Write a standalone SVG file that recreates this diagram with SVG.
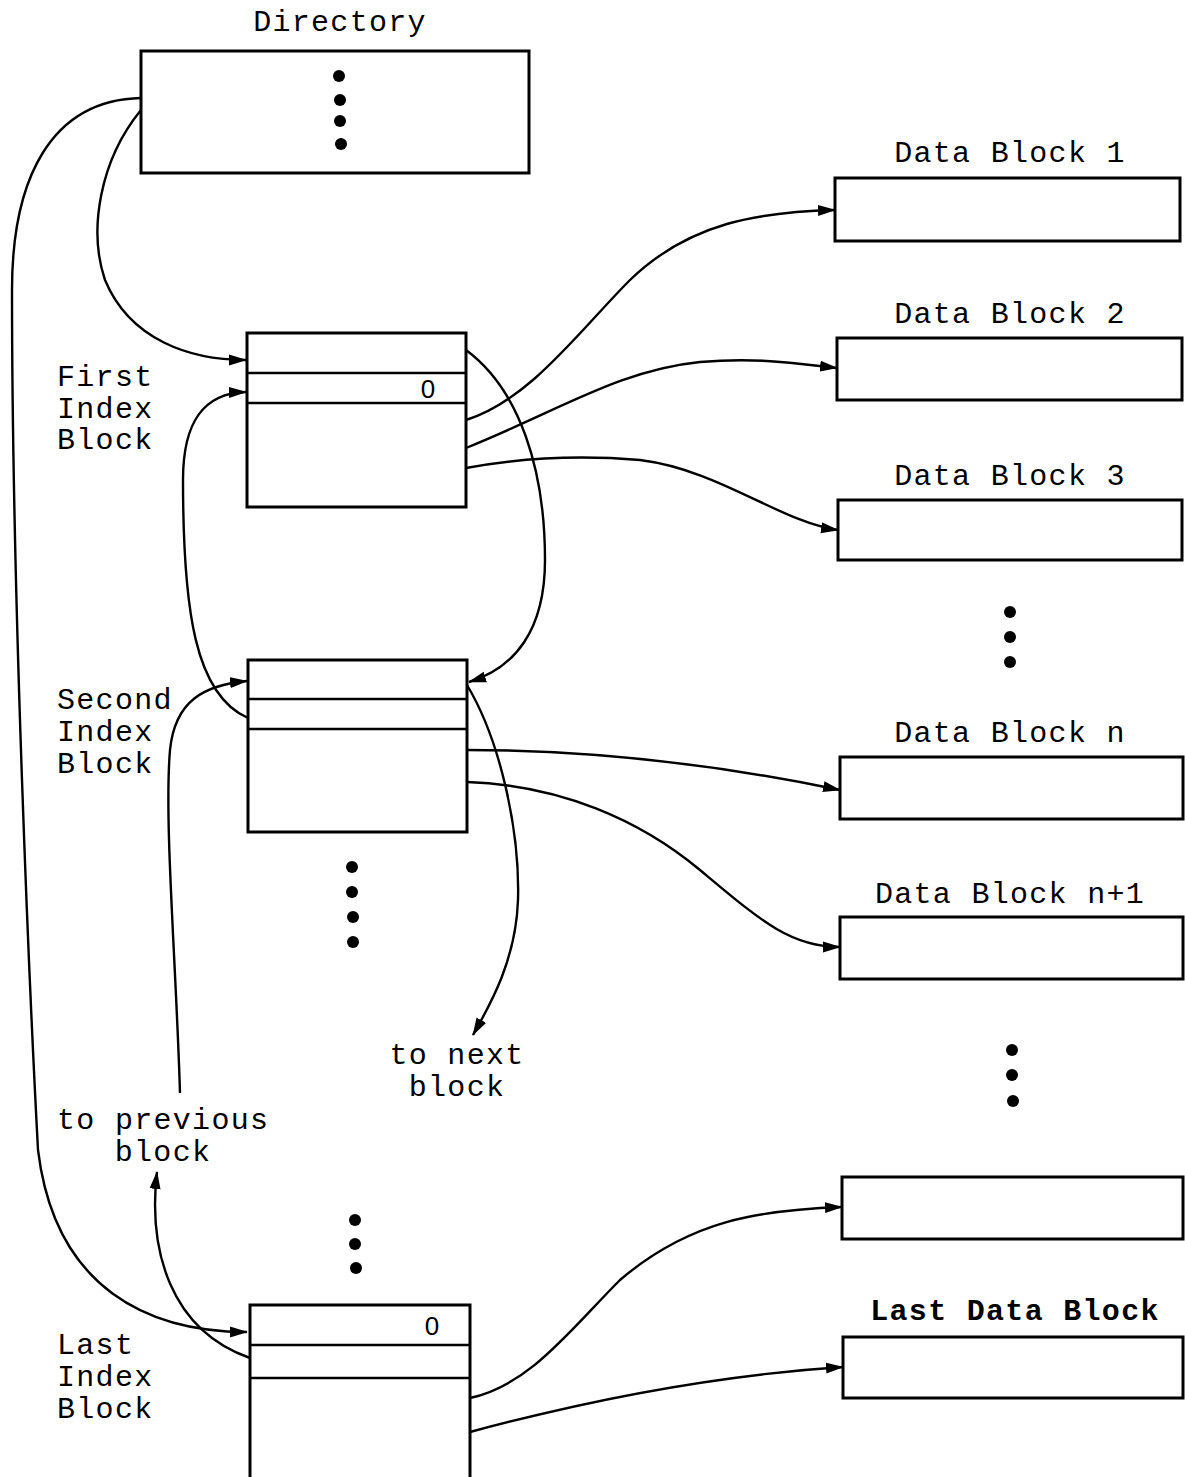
<svg xmlns="http://www.w3.org/2000/svg" width="1185" height="1477" viewBox="0 0 1185 1477">
<style>
.box{fill:#fff;stroke:#000;stroke-width:3}
.sep{stroke:#000;stroke-width:2.5}
.lbl{font-family:"Liberation Mono","Courier New",monospace;font-size:30px;letter-spacing:1.3px;fill:#000}
.b{font-weight:bold}
.zero{font-family:"Liberation Sans",Arial,sans-serif;font-size:26px;fill:#000}
.dot{fill:#000}
.con{fill:none;stroke:#000;stroke-width:2.4}
</style>
<defs>
<marker id="ah" markerWidth="18" markerHeight="12" refX="17" refY="6" orient="auto" markerUnits="userSpaceOnUse">
<path d="M0,0.5 L18,6 L0,11.5 Z" fill="#000"/>
</marker>
</defs>

<g id="directory">
<text class="lbl" x="340" y="31" text-anchor="middle">Directory</text>
<rect class="box" x="141" y="51" width="388" height="122"/>
<circle class="dot" cx="339" cy="76" r="6"/>
<circle class="dot" cx="340" cy="100" r="6"/>
<circle class="dot" cx="340" cy="121" r="6"/>
<circle class="dot" cx="341" cy="144" r="6"/>
</g>

<g id="first-index">
<text class="lbl" x="57" y="386">First</text>
<text class="lbl" x="57" y="418">Index</text>
<text class="lbl" x="57" y="449">Block</text>
<rect class="box" x="247" y="333" width="219" height="174"/>
<line class="sep" x1="247" y1="373" x2="466" y2="373"/>
<line class="sep" x1="247" y1="403" x2="466" y2="403"/>
<text class="zero" x="428" y="398" text-anchor="middle">0</text>
</g>

<g id="second-index">
<text class="lbl" x="57" y="709">Second</text>
<text class="lbl" x="57" y="741">Index</text>
<text class="lbl" x="57" y="773">Block</text>
<rect class="box" x="248" y="660" width="219" height="172"/>
<line class="sep" x1="248" y1="699" x2="467" y2="699"/>
<line class="sep" x1="248" y1="729" x2="467" y2="729"/>
</g>

<g id="index-dots">
<circle class="dot" cx="352" cy="867" r="6"/>
<circle class="dot" cx="352" cy="892" r="6"/>
<circle class="dot" cx="353" cy="917" r="6"/>
<circle class="dot" cx="353" cy="942" r="6"/>
<circle class="dot" cx="355" cy="1220" r="6"/>
<circle class="dot" cx="355" cy="1244" r="6"/>
<circle class="dot" cx="356" cy="1268" r="6"/>
</g>

<g id="last-index">
<text class="lbl" x="57" y="1354">Last</text>
<text class="lbl" x="57" y="1386">Index</text>
<text class="lbl" x="57" y="1418">Block</text>
<rect class="box" x="250" y="1305" width="220" height="180"/>
<line class="sep" x1="250" y1="1345" x2="470" y2="1345"/>
<line class="sep" x1="250" y1="1378" x2="470" y2="1378"/>
<text class="zero" x="432" y="1335" text-anchor="middle">0</text>
</g>

<g id="to-next-label">
<text class="lbl" x="457" y="1064" text-anchor="middle">to next</text>
<text class="lbl" x="457" y="1096" text-anchor="middle">block</text>
</g>
<g id="to-previous-label">
<text class="lbl" x="57" y="1129">to previous</text>
<text class="lbl" x="163" y="1161" text-anchor="middle">block</text>
</g>

<g id="data-block-1">
<text class="lbl" x="1010" y="162" text-anchor="middle">Data Block 1</text>
<rect class="box" x="835" y="178" width="345" height="63"/>
</g>
<g id="data-block-2">
<text class="lbl" x="1010" y="323" text-anchor="middle">Data Block 2</text>
<rect class="box" x="837" y="338" width="345" height="62"/>
</g>
<g id="data-block-3">
<text class="lbl" x="1010" y="485" text-anchor="middle">Data Block 3</text>
<rect class="box" x="838" y="500" width="344" height="60"/>
</g>
<g id="data-dots-1">
<circle class="dot" cx="1010" cy="612" r="6"/>
<circle class="dot" cx="1010" cy="637" r="6"/>
<circle class="dot" cx="1010" cy="662" r="6"/>
</g>
<g id="data-block-n">
<text class="lbl" x="1010" y="742" text-anchor="middle">Data Block n</text>
<rect class="box" x="840" y="757" width="343" height="62"/>
</g>
<g id="data-block-n1">
<text class="lbl" x="1010" y="903" text-anchor="middle">Data Block n+1</text>
<rect class="box" x="840" y="917" width="343" height="62"/>
</g>
<g id="data-dots-2">
<circle class="dot" cx="1012" cy="1050" r="6"/>
<circle class="dot" cx="1012" cy="1075" r="6"/>
<circle class="dot" cx="1013" cy="1101" r="6"/>
</g>
<g id="data-block-unlabeled">
<rect class="box" x="842" y="1177" width="341" height="62"/>
</g>
<g id="last-data-block">
<text class="lbl b" x="1015" y="1320" text-anchor="middle">Last Data Block</text>
<rect class="box" x="843" y="1337" width="340" height="61"/>
</g>

<g id="connectors">
<path class="con" d="M141,98 C50,100 12,180 12,290 C12,600 30,1000 38,1150 C55,1290 150,1332 247,1332" marker-end="url(#ah)"/>
<path class="con" d="M141,110 C100,160 88,230 105,280 C130,340 190,360 246,360" marker-end="url(#ah)"/>
<path class="con" d="M248,718 C195,695 183,610 183,480 C183,420 205,393 246,392" marker-end="url(#ah)"/>
<path class="con" d="M466,350 C520,390 545,470 545,560 C545,630 515,668 469,682" marker-end="url(#ah)"/>
<path class="con" d="M180,1093 C176,960 164,820 170,750 C175,700 205,685 247,681" marker-end="url(#ah)"/>
<path class="con" d="M250,1358 C170,1330 148,1250 157,1172" marker-end="url(#ah)"/>
<path class="con" d="M467,685 C500,740 520,830 518,900 C516,960 490,1005 473,1035" marker-end="url(#ah)"/>
<path class="con" d="M466,420 C530,400 580,330 630,280 C690,222 760,212 835,210" marker-end="url(#ah)"/>
<path class="con" d="M466,448 C560,410 620,370 700,362 C760,357 800,364 837,368" marker-end="url(#ah)"/>
<path class="con" d="M466,468 C520,458 580,455 640,460 C720,470 780,522 838,530" marker-end="url(#ah)"/>
<path class="con" d="M467,750 C600,750 720,765 840,790" marker-end="url(#ah)"/>
<path class="con" d="M467,782 C560,785 640,820 700,870 C760,920 790,947 840,947" marker-end="url(#ah)"/>
<path class="con" d="M470,1398 C530,1385 570,1330 620,1280 C690,1220 760,1210 842,1207" marker-end="url(#ah)"/>
<path class="con" d="M470,1432 C600,1397 720,1375 843,1367" marker-end="url(#ah)"/>
</g>
</svg>
